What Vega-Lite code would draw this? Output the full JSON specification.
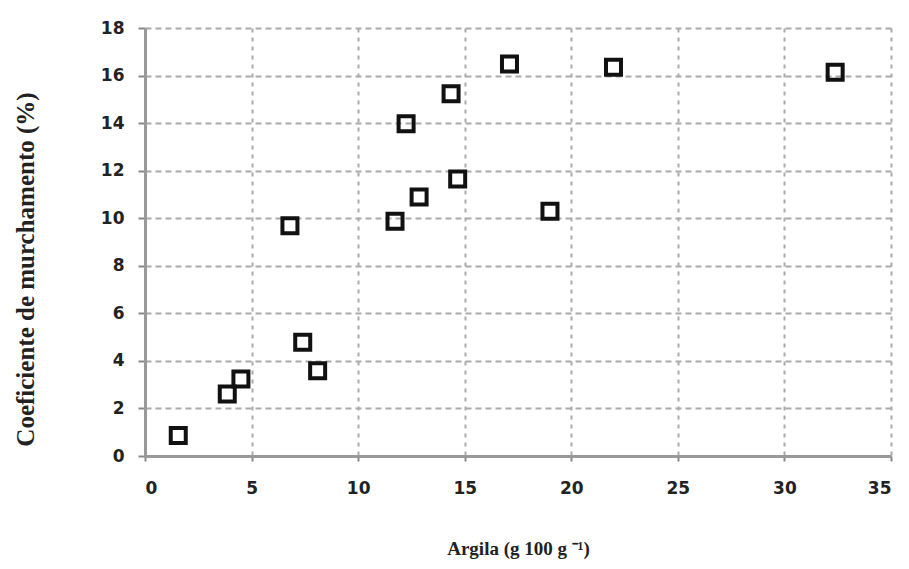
{
  "$schema": "https://vega.github.io/schema/vega-lite/v6.json",
  "width": 746,
  "height": 428,
  "autosize": {"type": "none"},
  "padding": {"left": 145, "top": 28, "right": 18, "bottom": 113},
  "background": "white",
  "config": {"view": {"stroke": null}},
  "data": {
    "values": [
      {"argila": 1.56, "coef": 0.86},
      {"argila": 3.86, "coef": 2.61},
      {"argila": 4.5, "coef": 3.24},
      {"argila": 6.8, "coef": 9.68},
      {"argila": 7.4, "coef": 4.78},
      {"argila": 8.1, "coef": 3.59},
      {"argila": 11.73, "coef": 9.87},
      {"argila": 12.25, "coef": 13.97},
      {"argila": 12.86, "coef": 10.89},
      {"argila": 14.36, "coef": 15.23},
      {"argila": 14.67, "coef": 11.65},
      {"argila": 17.1, "coef": 16.49},
      {"argila": 19.0, "coef": 10.29},
      {"argila": 21.98, "coef": 16.35},
      {"argila": 32.38, "coef": 16.14}
    ]
  },
  "mark": {"type": "point", "shape": "square", "filled": false, "size": 225, "stroke": "#111", "strokeWidth": 4, "opacity": 1},
  "encoding": {
    "x": {
      "field": "argila", "type": "quantitative",
      "scale": {"domain": [0, 35], "nice": false, "zero": true},
      "axis": {
        "title": "Argila (g 100 g ⁻¹)",
        "values": [0, 5, 10, 15, 20, 25, 30, 35],
        "grid": true, "gridColor": "#aaa", "gridDash": [4, 5], "gridWidth": 2,
        "domainColor": "#999", "domainWidth": 3,
        "tickColor": "#888", "tickSize": 5, "tickWidth": 2,
        "labelFont": "DejaVu Sans", "labelFontWeight": "bold", "labelFontSize": 17, "labelColor": "#222",
        "labelPadding": 19,
        "titleFont": "Liberation Serif", "titleFontWeight": "bold", "titleFontSize": 19, "titleColor": "#222",
        "titlePadding": 43
      }
    },
    "y": {
      "field": "coef", "type": "quantitative",
      "scale": {"domain": [0, 18], "nice": false},
      "axis": {
        "title": "Coeficiente de murchamento (%)",
        "values": [0, 2, 4, 6, 8, 10, 12, 14, 16, 18],
        "grid": true, "gridColor": "#aaa", "gridDash": [6, 4], "gridWidth": 2,
        "domainColor": "#999", "domainWidth": 3,
        "tickColor": "#888", "tickSize": 7, "tickWidth": 2,
        "labelFont": "DejaVu Sans", "labelFontWeight": "bold", "labelFontSize": 17, "labelColor": "#222",
        "labelPadding": 14,
        "titleFont": "Liberation Serif", "titleFontWeight": "bold", "titleFontSize": 25, "titleColor": "#222",
        "titlePadding": 62,
        "titleY": 241
      }
    }
  }
}
